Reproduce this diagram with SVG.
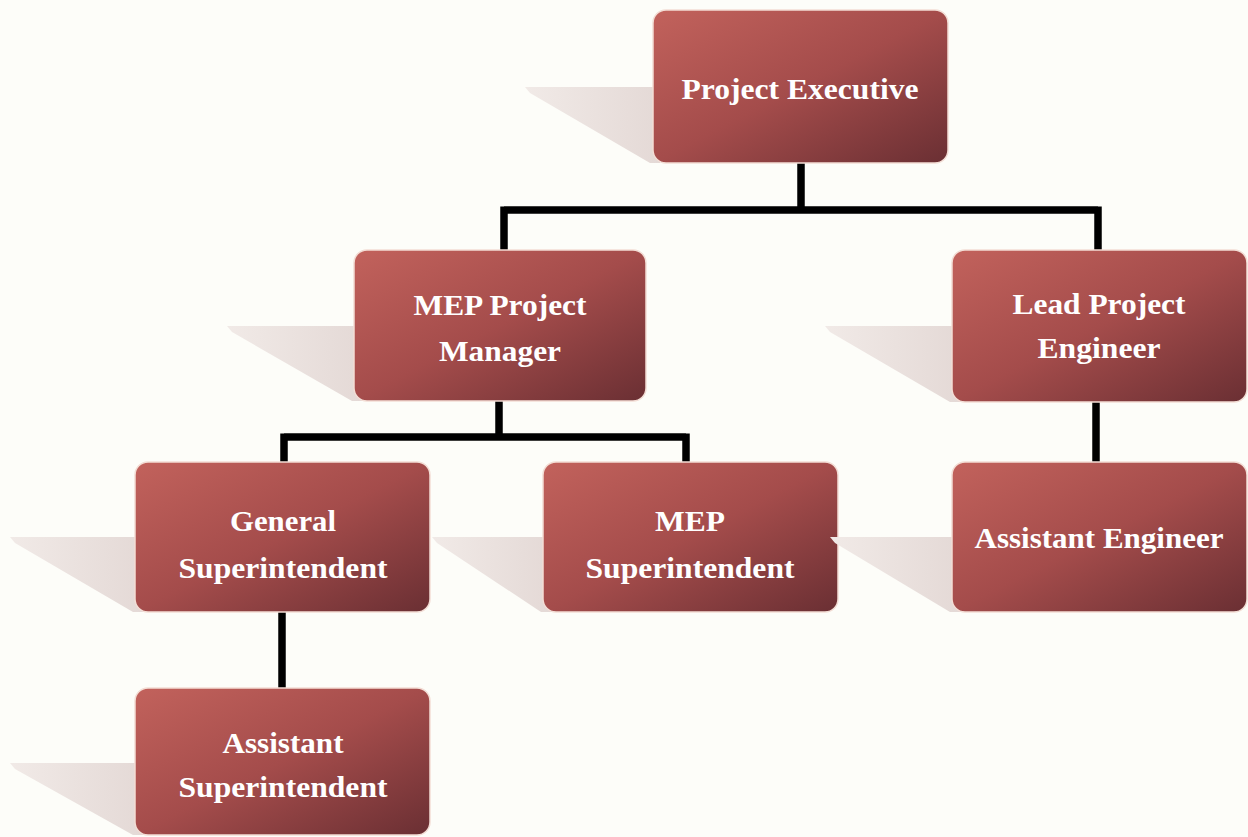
<svg xmlns="http://www.w3.org/2000/svg" width="1248" height="837" viewBox="0 0 1248 837">
<defs>
<linearGradient id="boxg" x1="0" y1="0" x2="1" y2="1">
<stop offset="0" stop-color="#c2625c"/>
<stop offset="0.5" stop-color="#a44c4b"/>
<stop offset="1" stop-color="#6a2f33"/>
</linearGradient>
<linearGradient id="shg" x1="0" y1="0" x2="1" y2="0">
<stop offset="0" stop-color="#f1eae7"/>
<stop offset="1" stop-color="#e4d9d6"/>
</linearGradient>
</defs>
<style>
.box{fill:url(#boxg);stroke:#f3ddd5;stroke-width:1.5}
.sh{fill:url(#shg)}
.t{font-family:"Liberation Serif","Times New Roman",serif;font-weight:bold;font-size:29px;fill:#ffffff;text-anchor:middle}
.c{fill:none;stroke:#000;stroke-width:7.5;stroke-linecap:butt}
</style>
<rect width="1248" height="837" fill="#fdfdf9"/>
<g id="connectors">
<path class="c" d="M801 163 V210 M504 210 H1098 M504 206.5 V251 M1098 206.5 V251"/>
<path class="c" d="M499 401 V437 M284 437 H686 M284 433.5 V463 M686 433.5 V463"/>
<path class="c" d="M1096 402 V463"/>
<path class="c" d="M282 612 V689"/>
</g>
<g id="n-project-executive">
<polygon class="sh" points="525,87 660,87 660,163 650,163 530,93"/>
<rect class="box" x="653" y="10" width="295" height="153" rx="13"/>
<text class="t" x="800" y="99" textLength="237" lengthAdjust="spacingAndGlyphs">Project Executive</text>
</g>
<g id="n-mep-project-manager">
<polygon class="sh" points="227,326 362,326 362,401 352,401 232,332"/>
<rect class="box" x="354" y="250" width="292" height="151" rx="13"/>
<text class="t" x="500" y="315" textLength="173" lengthAdjust="spacingAndGlyphs">MEP Project</text>
<text class="t" x="500" y="361" textLength="122" lengthAdjust="spacingAndGlyphs">Manager</text>
</g>
<g id="n-lead-project-engineer">
<polygon class="sh" points="825,326 960,326 960,402 950,402 830,332"/>
<rect class="box" x="952" y="250" width="295" height="152" rx="13"/>
<text class="t" x="1099" y="314" textLength="173" lengthAdjust="spacingAndGlyphs">Lead Project</text>
<text class="t" x="1099" y="358" textLength="123" lengthAdjust="spacingAndGlyphs">Engineer</text>
</g>
<g id="n-general-superintendent">
<polygon class="sh" points="10,537 143,537 143,612 133,612 15,543"/>
<rect class="box" x="135" y="462" width="295" height="150" rx="13"/>
<text class="t" x="283" y="531" textLength="106" lengthAdjust="spacingAndGlyphs">General</text>
<text class="t" x="283" y="578" textLength="209" lengthAdjust="spacingAndGlyphs">Superintendent</text>
</g>
<g id="n-mep-superintendent">
<polygon class="sh" points="432,537 551,537 551,612 541,612 437,543"/>
<rect class="box" x="543" y="462" width="295" height="150" rx="13"/>
<text class="t" x="690" y="531" textLength="70" lengthAdjust="spacingAndGlyphs">MEP</text>
<text class="t" x="690" y="578" textLength="209" lengthAdjust="spacingAndGlyphs">Superintendent</text>
</g>
<g id="n-assistant-engineer">
<polygon class="sh" points="830,537 960,537 960,612 950,612 835,543"/>
<rect class="box" x="952" y="462" width="295" height="150" rx="13"/>
<text class="t" x="1099" y="548" textLength="249" lengthAdjust="spacingAndGlyphs">Assistant Engineer</text>
</g>
<g id="n-assistant-superintendent">
<polygon class="sh" points="10,763 143,763 143,835 133,835 15,769"/>
<rect class="box" x="135" y="688" width="295" height="147" rx="13"/>
<text class="t" x="283" y="753" textLength="121" lengthAdjust="spacingAndGlyphs">Assistant</text>
<text class="t" x="283" y="797" textLength="209" lengthAdjust="spacingAndGlyphs">Superintendent</text>
</g>
</svg>
